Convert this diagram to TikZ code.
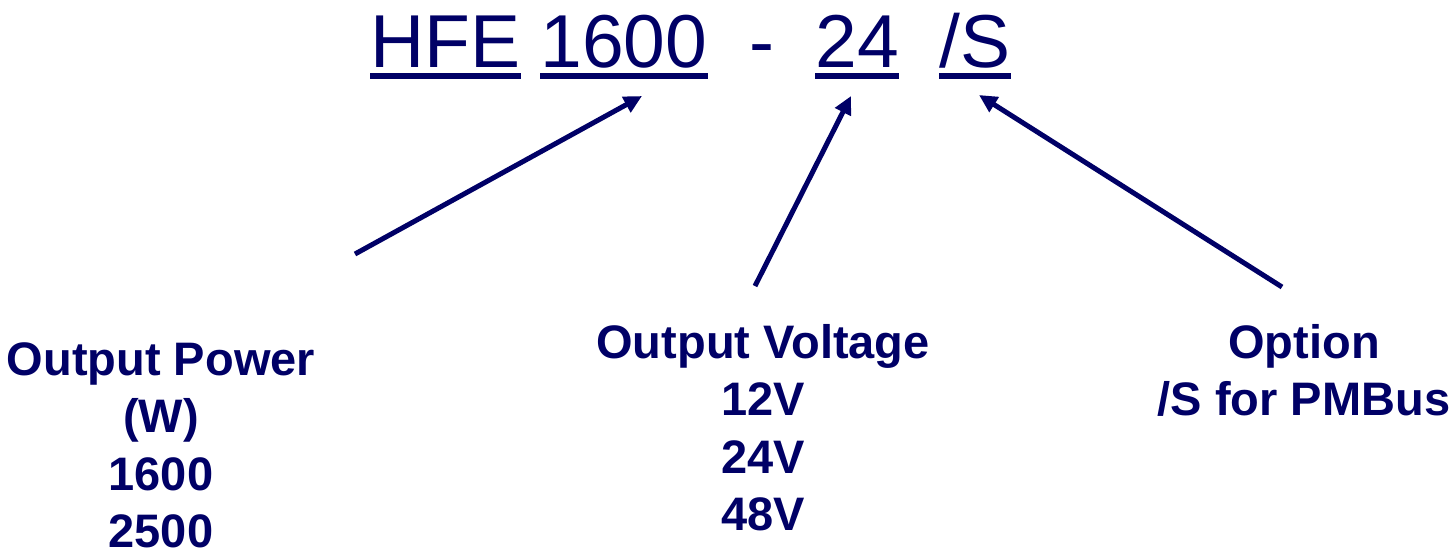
\documentclass[tikz,border=0pt]{standalone}
\usepackage{fontspec}
\setmainfont{Liberation Sans}
\usepackage{xcolor}
\usetikzlibrary{arrows.meta}
\definecolor{hfenavy}{RGB}{0,0,102}

\begin{document}
\begin{tikzpicture}[x=0.5pt, y=-0.5pt, >={Triangle[length=9pt,width=8.5pt]},
  partno/.style={inner sep=0pt, anchor=base west, text=hfenavy, font=\fontsize{37.5}{45}\selectfont},
  infobox/.style={inner sep=0pt, anchor=north, align=center, text=hfenavy, font=\fontsize{23.5}{28.7}\selectfont\bfseries},
  pointer/.style={->, line width=2.5pt, draw=hfenavy}]
\useasboundingbox (0,0) rectangle (1456,554);
% part number
\node[partno] (series) at (370,67) {HFE};
\node[partno] (power) at (540,67) {1600};
\node[partno] (dash) at (749,67) {-};
\node[partno] (volt) at (815,67) {24};
\node[partno] (opt) at (939,67) {/S};
\foreach \word in {series,power,volt,opt}
  \fill[hfenavy] ([yshift=-3pt]\word.base west) rectangle ([yshift=-6pt]\word.base east);
% descriptions
\node[infobox] (powinfo) at (161,342) {Output Power\\(W)\\1600\\2500};
\node[infobox] (voltinfo) at (763,324) {Output Voltage\\12V\\24V\\48V};
\node[infobox] (optinfo) at (1304,324) {Option\\/S for PMBus};
% pointers
\coordinate (powtail) at (355,254);
\coordinate (powtip) at (642,96);
\coordinate (volttail) at (755,286);
\coordinate (volttip) at (851,96);
\coordinate (opttail) at (1282,287);
\coordinate (opttip) at (979,95);
\draw[pointer] (powtail) -- (powtip);
\draw[pointer] (volttail) -- (volttip);
\draw[pointer] (opttail) -- (opttip);
\end{tikzpicture}
\end{document}
